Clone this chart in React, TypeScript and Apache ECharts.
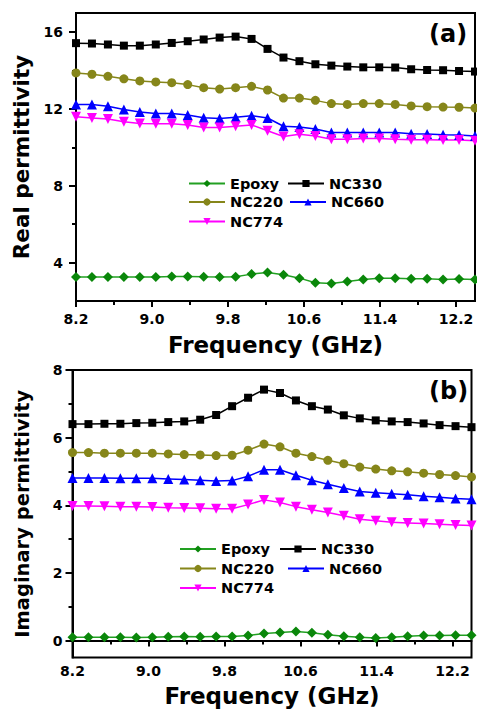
import React, { useEffect, useRef } from 'react';
import * as echarts from 'echarts';

// Frequency points (GHz)
const freq = [8.2, 8.368, 8.536, 8.704, 8.872, 9.04, 9.208, 9.376, 9.544, 9.712, 9.88, 10.048, 10.216,
  10.384, 10.552, 10.72, 10.888, 11.056, 11.224, 11.392, 11.56, 11.728, 11.896, 12.064, 12.232, 12.4];

// (a) Real permittivity
const realEpoxy = [3.25, 3.25, 3.25, 3.25, 3.25, 3.25, 3.28, 3.28, 3.26, 3.25, 3.26, 3.40, 3.49,
  3.37, 3.19, 2.95, 2.91, 3.02, 3.12, 3.18, 3.18, 3.16, 3.16, 3.12, 3.14, 3.12];
const realNC330 = [15.43, 15.41, 15.36, 15.30, 15.30, 15.36, 15.44, 15.53, 15.62, 15.72, 15.77, 15.65, 15.13,
  14.68, 14.49, 14.33, 14.26, 14.21, 14.17, 14.17, 14.16, 14.07, 14.03, 14.02, 13.98, 13.95];
const realNC220 = [13.88, 13.81, 13.70, 13.57, 13.46, 13.41, 13.37, 13.27, 13.11, 13.04, 13.11, 13.18, 12.99,
  12.57, 12.57, 12.45, 12.28, 12.24, 12.28, 12.28, 12.24, 12.16, 12.12, 12.10, 12.09, 12.05];
const realNC660 = [12.24, 12.24, 12.14, 11.97, 11.84, 11.77, 11.77, 11.69, 11.55, 11.50, 11.57, 11.65, 11.53,
  11.10, 11.06, 10.96, 10.78, 10.77, 10.78, 10.78, 10.77, 10.71, 10.70, 10.66, 10.64, 10.59];
const realNC774 = [11.60, 11.53, 11.48, 11.34, 11.25, 11.23, 11.23, 11.17, 11.04, 11.04, 11.10, 11.17, 10.87,
  10.57, 10.68, 10.59, 10.43, 10.43, 10.47, 10.47, 10.43, 10.40, 10.40, 10.38, 10.38, 10.35];

// (b) Imaginary permittivity
const imagEpoxy = [0.10, 0.10, 0.10, 0.10, 0.09, 0.10, 0.11, 0.12, 0.11, 0.12, 0.12, 0.15, 0.21,
  0.24, 0.27, 0.23, 0.17, 0.13, 0.10, 0.08, 0.10, 0.13, 0.15, 0.15, 0.16, 0.16];
const imagNC330 = [6.40, 6.40, 6.41, 6.41, 6.43, 6.44, 6.46, 6.48, 6.53, 6.67, 6.93, 7.18, 7.42,
  7.32, 7.10, 6.93, 6.83, 6.66, 6.57, 6.51, 6.48, 6.46, 6.42, 6.37, 6.34, 6.31];
const imagNC220 = [5.56, 5.56, 5.54, 5.54, 5.54, 5.54, 5.52, 5.50, 5.49, 5.47, 5.48, 5.63, 5.81,
  5.73, 5.54, 5.44, 5.33, 5.23, 5.13, 5.07, 5.02, 4.99, 4.95, 4.91, 4.88, 4.84];
const imagNC660 = [4.81, 4.81, 4.81, 4.80, 4.80, 4.80, 4.78, 4.76, 4.74, 4.72, 4.73, 4.86, 5.05,
  5.05, 4.89, 4.74, 4.62, 4.51, 4.41, 4.37, 4.34, 4.31, 4.27, 4.24, 4.20, 4.18];
const imagNC774 = [3.98, 3.98, 3.97, 3.96, 3.96, 3.95, 3.93, 3.92, 3.91, 3.90, 3.90, 4.02, 4.16,
  4.08, 3.96, 3.87, 3.79, 3.69, 3.59, 3.54, 3.50, 3.48, 3.46, 3.44, 3.42, 3.40];

const seriesNames = ['Epoxy', 'NC330', 'NC220', 'NC660', 'NC774'];
const realData = [realEpoxy, realNC330, realNC220, realNC660, realNC774];
const imagData = [imagEpoxy, imagNC330, imagNC220, imagNC660, imagNC774];

const xMajorTicks = [8.2, 9.0, 9.8, 10.6, 11.4, 12.2];
const xMinorTicks = [8.6, 9.4, 10.2, 11.0, 11.8];
const realMajorTicks = [4, 8, 12, 16];
const realMinorTicks = [6, 10, 14];
const imagMajorTicks = [0, 2, 4, 6, 8];
const imagMinorTicks = [1, 3, 5, 7];

const FONT = 'DejaVu Sans';

const styles: Record<string, any> = {
  Epoxy: { color: '#0a870a', line: '#22a022', symbol: 'diamond', size: 10, rotate: 0 },
  NC330: { color: '#000000', line: '#000000', symbol: 'rect', size: 8, rotate: 0 },
  NC220: { color: '#86861a', line: '#86861a', symbol: 'circle', size: 9, rotate: 0 },
  NC660: { color: '#0000ff', line: '#0000ff', symbol: 'triangle', size: 10, rotate: 0 },
  NC774: { color: '#ff00ff', line: '#ff00ff', symbol: 'triangle', size: 10, rotate: 180 },
};

function makeSeries(data: number[][], axisIdx: number) {
  return seriesNames.map((name, k) => ({
    name,
    type: 'line',
    xAxisIndex: axisIdx,
    yAxisIndex: axisIdx,
    data: freq.map((f, i) => [f, data[k][i]]),
    symbol: styles[name].symbol,
    symbolSize: styles[name].size,
    symbolRotate: styles[name].rotate,
    showAllSymbol: true,
    lineStyle: { color: styles[name].line, width: 1.5 },
    itemStyle: { color: styles[name].color },
    emphasis: { disabled: true },
  }));
}

function xAxes(gridIndex: number, labelMargin: number, nameGap: number) {
  const base = {
    gridIndex,
    type: 'value',
    min: 8.2,
    max: 12.4,
    position: 'bottom',
    splitLine: { show: false },
  };
  return [
    {
      ...base,
      axisLine: { show: true, lineStyle: { color: '#000', width: 2 } },
      axisTick: { show: true, customValues: xMajorTicks, length: 6, lineStyle: { color: '#000', width: 2 } },
      axisLabel: {
        show: true,
        customValues: xMajorTicks,
        formatter: (v: number) => v.toFixed(1),
        margin: labelMargin,
        color: '#000',
        fontFamily: FONT,
        fontWeight: 'bold',
        fontSize: 14,
      },
      name: 'Frequency (GHz)',
      nameLocation: 'middle',
      nameGap,
      nameTextStyle: { color: '#000', fontFamily: FONT, fontWeight: 'bold', fontSize: 23 },
    },
    {
      ...base,
      offset: 0,
      axisLine: { show: false },
      axisTick: { show: true, customValues: xMinorTicks, length: 4, lineStyle: { color: '#000', width: 2 } },
      axisLabel: { show: false },
    },
  ];
}

function yAxes(gridIndex: number, min: number, max: number, major: number[], minor: number[],
  name: string, nameGap: number, nameSize: number, labelMargin: number) {
  const base = { gridIndex, type: 'value', min, max, position: 'left', splitLine: { show: false } };
  return [
    {
      ...base,
      axisLine: { show: true, lineStyle: { color: '#000', width: 2 } },
      axisTick: { show: true, customValues: major, length: 7, lineStyle: { color: '#000', width: 2 } },
      axisLabel: {
        show: true,
        customValues: major,
        margin: labelMargin,
        color: '#000',
        fontFamily: FONT,
        fontWeight: 'bold',
        fontSize: 14,
      },
      name,
      nameLocation: 'middle',
      nameGap,
      nameTextStyle: { color: '#000', fontFamily: FONT, fontWeight: 'bold', fontSize: nameSize },
    },
    {
      ...base,
      offset: 0,
      axisLine: { show: false },
      axisTick: { show: true, customValues: minor, length: 4, lineStyle: { color: '#000', width: 2 } },
      axisLabel: { show: false },
    },
  ];
}

function legendItem(name: string, left: number, centerY: number) {
  return {
    data: [name],
    left,
    top: centerY - 8,
    padding: 0,
    itemWidth: 36,
    itemHeight: 9,
    selectedMode: false,
    textStyle: { color: '#000', fontFamily: FONT, fontWeight: 'bold', fontSize: 14.5 },
  };
}

export default function App() {
  const ref = useRef<HTMLDivElement>(null);
  useEffect(() => {
    if (!ref.current) return;
    const chart = echarts.init(ref.current, undefined, { renderer: 'svg' });
    chart.setOption({
      animation: false,
      backgroundColor: '#fff',
      grid: [
        { left: 76, top: 13, width: 399, height: 288, show: true, borderColor: '#000', borderWidth: 2, backgroundColor: 'transparent' },
        { left: 72.5, top: 370, width: 399, height: 287.5, show: true, borderColor: '#000', borderWidth: 2, backgroundColor: 'transparent' },
      ],
      xAxis: [...xAxes(0, 11, 32), ...xAxes(1, 6, 27)],
      yAxis: [
        ...yAxes(0, 2, 17, realMajorTicks, realMinorTicks, 'Real permittivity', 43, 21.5, 13),
        ...yAxes(1, -0.5, 8, imagMajorTicks, imagMinorTicks, 'Imaginary permittivity', 40, 19.5, 10),
      ],
      legend: [
        legendItem('Epoxy', 188, 184),
        legendItem('NC330', 287, 184),
        legendItem('NC220', 188, 202.5),
        legendItem('NC660', 289, 202.5),
        legendItem('NC774', 188, 222),
        legendItem('Epoxy', 179, 549.5),
        legendItem('NC330', 279, 549.5),
        legendItem('NC220', 179, 569),
        legendItem('NC660', 287, 569),
        legendItem('NC774', 179, 588.5),
      ],
      graphic: [
        { type: 'text', left: 429, top: 22, style: { text: '(a)', fill: '#000', font: `bold 24px "${FONT}"` } },
        { type: 'text', left: 429, top: 379, style: { text: '(b)', fill: '#000', font: `bold 24px "${FONT}"` } },
      ],
      series: [...makeSeries(realData, 0), ...makeSeries(imagData, 2)],
    });
    return () => chart.dispose();
  }, []);
  return <div ref={ref} style={{ position: 'absolute', left: 0, top: 0, width: 477, height: 713 }} />;
}
